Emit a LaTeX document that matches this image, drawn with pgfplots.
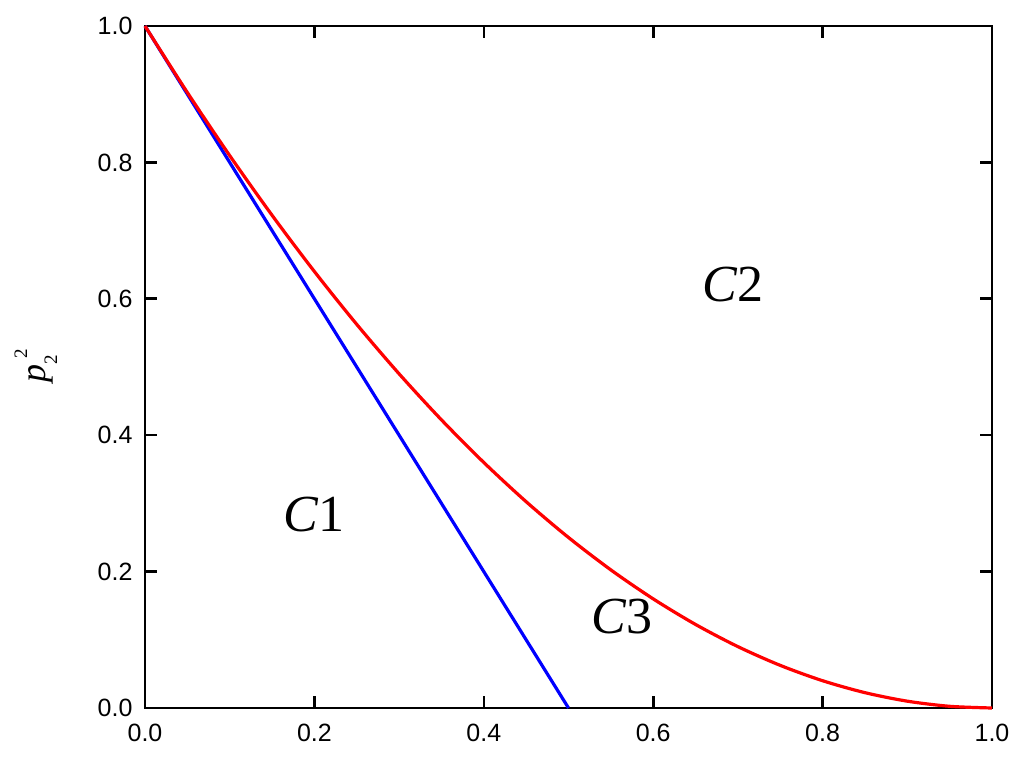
\documentclass[border=0pt]{standalone}
\usepackage{fontspec}
\setmainfont{Liberation Serif}
\newfontfamily\arial{Liberation Sans}
\usepackage{pgfplots}
\pgfplotsset{compat=1.18}
\begin{document}
\begin{tikzpicture}[x=1pt,y=1pt]
\path[use as bounding box] (0,0) rectangle (1024,758);
\begin{axis}[
  at={(145pt,50pt)}, anchor=south west,
  scale only axis, width=847pt, height=682pt,
  xmin=0, xmax=1, ymin=0, ymax=1,
  xtick={0,0.2,0.4,0.6,0.8,1.0},
  ytick={0,0.2,0.4,0.6,0.8,1.0},
  tick align=inside, major tick length=12pt,
  axis line style={line width=2.6pt, black},
  every tick/.style={black, line width=2.6pt},
  tick label style={font=\arial\fontsize{25}{29}\selectfont},
  xticklabel style={yshift=-13pt},
  yticklabel style={xshift=-9pt},
  /pgf/number format/.cd, fixed, fixed zerofill, precision=1, assume math mode=true,
  /pgfplots/.cd,
  clip=false,
]
\addplot[blue, line width=3.2pt] coordinates {(0,1) (0.5,0)};
\addplot[red, line width=3.2pt, smooth] coordinates {
(0,1) (0.05,0.9025) (0.1,0.81) (0.15,0.7225) (0.2,0.64) (0.25,0.5625)
(0.3,0.49) (0.35,0.4225) (0.4,0.36) (0.45,0.3025) (0.5,0.25)
(0.55,0.2025) (0.6,0.16) (0.65,0.1225) (0.7,0.09) (0.75,0.0625)
(0.8,0.04) (0.85,0.0225) (0.9,0.01) (0.95,0.0025) (1,0)};
\node[font=\fontsize{52}{58}\selectfont] at (axis cs:0.1995,0.284) {\textit{C}1};
\node[font=\fontsize{52}{58}\selectfont] at (axis cs:0.694,0.621) {\textit{C}2};
\node[font=\fontsize{52}{58}\selectfont] at (axis cs:0.563,0.134) {\textit{C}3};
\node[rotate=90, anchor=base west, inner sep=0pt, font=\fontsize{36}{40}\selectfont] at (rel axis cs:-0.118,0.4765)
  {\textit{p}\raisebox{-12pt}{\fontsize{19}{19}\selectfont 2}\hspace{-3pt}\raisebox{18pt}{\fontsize{19}{19}\selectfont 2}};
\end{axis}
\end{tikzpicture}
\end{document}
